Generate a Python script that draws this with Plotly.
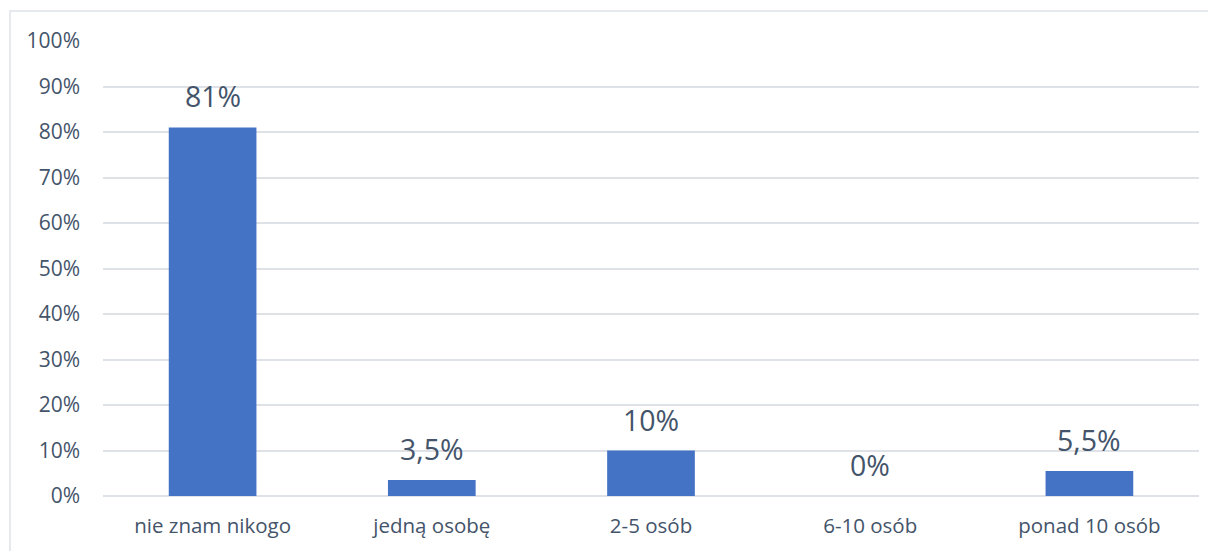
import plotly.graph_objects as go

categories = ["nie znam nikogo", "jedną osobę", "2-5 osób", "6-10 osób", "ponad 10 osób"]
values = [81, 3.5, 10, 0, 5.5]
labels = ["81%", "3,5%", "10%", "0%", "5,5%"]
tick_vals = [0, 10, 20, 30, 40, 50, 60, 70, 80, 90, 100]
tick_text = ["0%", "10%", "20%", "30%", "40%", "50%", "60%", "70%", "80%", "90%", "100%"]

TEXT = "#44546A"
FONT = "Open Sans"
fig = go.Figure(go.Bar(
    x=categories, y=values,
    marker=dict(color="#4472C4", line=dict(width=0)),
    width=0.4,
))

for c, v, t in zip(categories, values, labels):
    fig.add_annotation(x=c, y=v, text=t, showarrow=False, yanchor="middle",
                       yshift=31, font=dict(size=28.5, color=TEXT, family=FONT))

fig.update_layout(
    width=1208, height=543,
    margin=dict(l=95, r=17, t=33, b=55),
    paper_bgcolor="white", plot_bgcolor="white",
    font=dict(family=FONT, color=TEXT, size=19),
    showlegend=False,
    xaxis=dict(showgrid=False, showline=False, ticks="", tickfont=dict(size=20.5),
               ticklabelstandoff=15),
    yaxis=dict(range=[0, 100], tickvals=tick_vals, ticktext=tick_text,
               showgrid=True, gridcolor="#DEE2E7", gridwidth=1.5, zeroline=True,
               zerolinecolor="#DEE2E7", zerolinewidth=1.5, showline=False,
               tickfont=dict(size=21), ticklabelstandoff=22),
    shapes=[dict(type="rect", xref="paper", yref="paper",
                 x0=-93/1096, x1=1.2, y0=-0.3, y1=1 + 30/455,
                 line=dict(color="#DEE2E7", width=1.5), fillcolor="rgba(0,0,0,0)",
                 layer="below")],
)

fig.write_html("out.html")
